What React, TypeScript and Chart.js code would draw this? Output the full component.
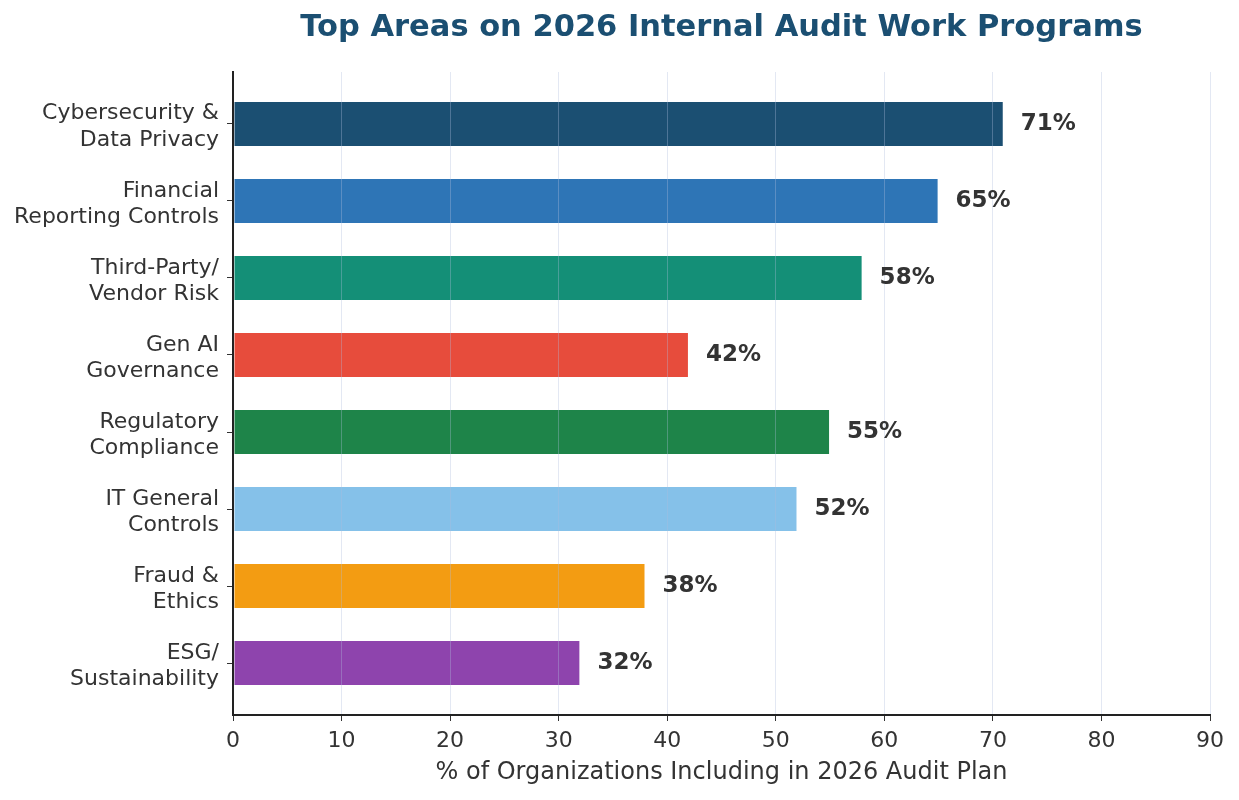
import { useEffect, useRef } from 'react';
import { Chart, registerables } from 'chart.js';

Chart.register(...registerables);

const chartTitle = 'Top Areas on 2026 Internal Audit Work Programs';
const xTitle = '% of Organizations Including in 2026 Audit Plan';

const categories = [
  ['Cybersecurity &', 'Data Privacy'],
  ['Financial', 'Reporting Controls'],
  ['Third-Party/', 'Vendor Risk'],
  ['Gen AI', 'Governance'],
  ['Regulatory', 'Compliance'],
  ['IT General', 'Controls'],
  ['Fraud &', 'Ethics'],
  ['ESG/', 'Sustainability'],
];
const percentages = [71, 65, 58, 42, 55, 52, 38, 32];
const barColors = [
  '#1b4f72',
  '#2e75b6',
  '#148f77',
  '#e74c3c',
  '#1e8449',
  '#85c1e9',
  '#f39c12',
  '#8e44ad',
];
const xTicks = [0, 10, 20, 30, 40, 50, 60, 70, 80, 90];

const FONT = "'DejaVu Sans', sans-serif";

// writes "71%" etc. just past the end of each bar
const valueLabels = {
  id: 'valueLabels',
  afterDraw(chart) {
    const ctx = chart.ctx;
    const meta = chart.getDatasetMeta(0);
    ctx.save();
    ctx.font = `bold 23px ${FONT}`;
    ctx.fillStyle = '#333333';
    ctx.textAlign = 'left';
    ctx.textBaseline = 'middle';
    meta.data.forEach((bar, i) => {
      ctx.fillText(`${percentages[i]}%`, bar.x + 17, bar.y);
    });
    ctx.restore();
  },
};

export default function App() {
  const canvasRef = useRef(null);

  useEffect(() => {
    document.body.style.margin = '0';
    const chart = new Chart(canvasRef.current, {
      type: 'bar',
      data: {
        datasets: [
          {
            data: percentages.map((v, i) => ({ x: v, y: i })),
            backgroundColor: barColors,
            borderColor: 'rgba(255,255,255,0.35)',
            borderWidth: 1,
            borderSkipped: false,
            barPercentage: 0.6,
            categoryPercentage: 1,
          },
        ],
      },
      options: {
        indexAxis: 'y',
        animation: false,
        responsive: false,
        layout: { padding: { left: 0, right: 29, top: 0, bottom: 0 } },
        plugins: {
          legend: { display: false },
          tooltip: { enabled: false },
          title: {
            display: true,
            text: chartTitle,
            fullSize: false,
            color: '#1b4f72',
            font: { family: FONT, size: 30.5, weight: 'bold' },
            padding: { top: 10, bottom: 25.4 },
          },
        },
        scales: {
          x: {
            type: 'linear',
            min: 0,
            max: 90,
            afterBuildTicks: (scale) => {
              scale.ticks = xTicks.map((v) => ({ value: v }));
            },
            afterFit: (scale) => {
              scale.height = 85;
            },
            grid: {
              z: 1,
              color: 'rgba(176, 190, 222, 0.35)',
              lineWidth: 1,
              tickColor: '#333333',
              tickLength: 6,
            },
            border: { display: true, color: '#222222', width: 2, z: 1 },
            ticks: {
              color: '#333333',
              font: { family: FONT, size: 22 },
              padding: 7,
            },
            title: {
              display: true,
              text: xTitle,
              color: '#333333',
              font: { family: FONT, size: 24 },
              padding: { top: 4, bottom: 13 },
            },
          },
          y: {
            type: 'linear',
            reverse: true,
            offset: false,
            min: -0.675,
            max: categories.length - 1 + 0.675,
            afterBuildTicks: (scale) => {
              scale.ticks = categories.map((_, i) => ({ value: i }));
            },
            afterFit: (scale) => {
              scale.width = 233;
            },
            grid: {
              offset: false,
              drawOnChartArea: false,
              tickColor: '#333333',
              tickLength: 6,
            },
            border: { display: true, color: '#222222', width: 2, z: 1 },
            ticks: {
              color: '#333333',
              font: { family: FONT, size: 22, lineHeight: 1.2 },
              padding: 8,
              labelOffset: 3,
              callback: (value) => categories[value] ?? '',
            },
          },
        },
      },
      plugins: [valueLabels],
    });
    return () => chart.destroy();
  }, []);

  return (
    <div style={{ width: 1239, height: 800 }}>
      <canvas ref={canvasRef} width={1239} height={800} />
    </div>
  );
}
